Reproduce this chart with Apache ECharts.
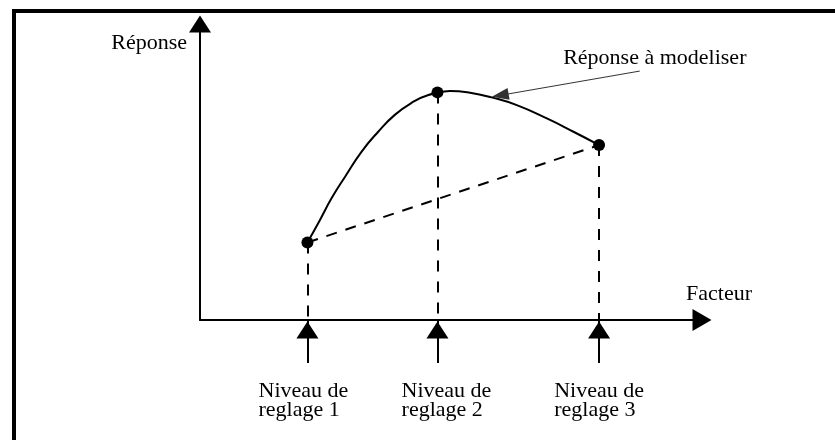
<!DOCTYPE html>
<html>
<head>
<meta charset="utf-8">
<script src="https://cdn.jsdelivr.net/npm/echarts@6/dist/echarts.min.js"></script>
<style>
  html, body { margin: 0; padding: 0; background: #fff; }
  #chart { width: 835px; height: 440px; }
</style>
</head>
<body>
<div id="chart"></div>
<script>
// ---- Data (schematic units: x 0..100 along "Facteur", y 0..100 along "Réponse") ----
const levels = [21.4, 47.3, 79.5];               // factor settings (Niveau de reglage 1..3)
const levelResponses = [26.2, 76.9, 59.1];       // measured response at each setting
const levelLabels = ['Niveau de\nreglage 1', 'Niveau de\nreglage 2', 'Niveau de\nreglage 3'];

// true response curve
const curveX = [21.4, 23.9, 26.2, 28.9, 32.2, 35.5, 38.8, 42.2, 45.5, 49.8, 53.8, 58.1, 63.1, 69.1, 74.4, 79.5];
const curveY = [26.2, 33.8, 41.1, 48.4, 56.9, 63.6, 69.3, 73.4, 76.0, 77.4, 76.8, 75.2, 72.6, 68.1, 63.6, 59.1];

const xAxisName = 'Facteur';
const yAxisName = 'Réponse';
const annotationText = 'Réponse à modeliser';
const annotationFrom = [87.6, 84.1];
const annotationTo = [59.8, 75.9];
const annotationTextAt = [90.6, 88.6];

// ---- Styles ----
const FONT = 'Liberation Serif';
// small horizontal nudges of the label blocks (padding left/right in px)
const labelPads = [[0, 0, 0, 0], [0, 0, 0, 0], [0, 0, 0, 0]];
const labelShift = [[0, 8], [18, 0], [0, 0]];

const chart = echarts.init(document.getElementById('chart'), null, { renderer: 'canvas' });

function levelIndex(v) {
  let best = 0;
  for (let i = 1; i < levels.length; i++) {
    if (Math.abs(levels[i] - v) < Math.abs(levels[best] - v)) best = i;
  }
  return best;
}
function labelFor(v) {
  const i = levelIndex(v);
  return levelLabels[i].split('\n').map(s => '{l' + i + '|' + s + '}').join('\n');
}
const rich = {};
labelShift.forEach((p, i) => {
  rich['l' + i] = { fontFamily: FONT, fontSize: 22, lineHeight: 19, color: '#000', align: 'left', padding: [0, p[1], 0, p[0]] };
});

const frameLine = { show: true, onZero: false, lineStyle: { color: '#000', width: 4, cap: 'square' } };

const option = {
  animation: false,
  backgroundColor: '#ffffff',
  grid: [
    { left: 200, top: 24, width: 502, height: 296, show: false },
    { left: 14, top: 11, right: 0, bottom: 0, show: false }
  ],
  xAxis: [
    {
      type: 'value', gridIndex: 0, min: 0, max: 100,
      name: xAxisName, nameLocation: 'end', nameGap: 17, nameMoveOverlap: false,
      nameTextStyle: { fontFamily: FONT, fontSize: 22, color: '#000', align: 'center', verticalAlign: 'bottom', lineHeight: 22, padding: [0, 0, 15, 0] },
      axisLine: { show: true, onZero: false, symbol: ['none', 'triangle'], symbolSize: [22, 19], lineStyle: { color: '#000', width: 2 } },
      axisTick: { show: true, customValues: levels, length: 43, inside: false, lineStyle: { color: '#000', width: 2 } },
      axisLabel: {
        show: true, customValues: levels, margin: 62,
        formatter: labelFor,
        rich: rich
      },
      splitLine: { show: false }
    },
    {
      type: 'value', gridIndex: 1, position: 'top', min: 0, max: 1,
      axisLine: frameLine, axisTick: { show: false }, axisLabel: { show: false }, splitLine: { show: false }
    }
  ],
  yAxis: [
    {
      type: 'value', gridIndex: 0, min: 0, max: 100,
      name: yAxisName, nameLocation: 'end', nameGap: -19, nameMoveOverlap: false,
      nameTextStyle: { fontFamily: FONT, fontSize: 22, color: '#000', align: 'right', verticalAlign: 'middle', padding: [0, 13, 0, 0] },
      axisLine: { show: true, onZero: false, symbol: ['none', 'triangle'], symbolSize: [22, 17], lineStyle: { color: '#000', width: 2 } },
      axisTick: { show: false },
      axisLabel: { show: false },
      splitLine: { show: false }
    },
    {
      type: 'value', gridIndex: 1, position: 'left', min: 0, max: 1,
      axisLine: frameLine, axisTick: { show: false }, axisLabel: { show: false }, splitLine: { show: false }
    }
  ],
  series: [
    {
      name: 'corde', type: 'line', xAxisIndex: 0, yAxisIndex: 0,
      data: [[levels[0], levelResponses[0]], [levels[2], levelResponses[2]]],
      symbol: 'none', silent: true,
      lineStyle: { color: '#000', width: 2, type: [11, 9] }
    },
    {
      name: 'courbe', type: 'line', xAxisIndex: 0, yAxisIndex: 0,
      data: curveX.map((x, i) => [x, curveY[i]]),
      smooth: 0.5, symbol: 'none', silent: true,
      lineStyle: { color: '#000', width: 2 },
      markLine: {
        silent: true, symbol: ['none', 'triangle'], symbolSize: [12, 17],
        label: { show: false },
        itemStyle: { color: '#000' },
        lineStyle: { color: '#333', width: 1, type: 'solid', opacity: 1 },
        data: [[{ coord: annotationFrom }, { coord: annotationTo }]]
      }
    },
    {
      name: 'points', type: 'scatter', xAxisIndex: 0, yAxisIndex: 0,
      data: levels.map((x, i) => [x, levelResponses[i]]),
      symbol: 'circle', symbolSize: 12, clip: false, silent: true, z: 6,
      itemStyle: { color: '#000', opacity: 1 },
      markLine: {
        silent: true, symbol: ['none', 'none'],
        label: { show: false },
        lineStyle: { color: '#000', width: 2, type: [11, 10], opacity: 1 },
        data: levels.map((x, i) => [{ coord: [x, levelResponses[i]] }, { coord: [x, 0] }])
      }
    },
    {
      name: 'niveaux', type: 'scatter', xAxisIndex: 0, yAxisIndex: 0,
      data: levels.map(x => [x, 0]),
      symbol: 'triangle', symbolSize: [22, 17], symbolOffset: [0, 10],
      clip: false, silent: true, z: 5,
      itemStyle: { color: '#000', opacity: 1 }
    },
    {
      name: 'annotation', type: 'scatter', xAxisIndex: 0, yAxisIndex: 0,
      data: [annotationTextAt],
      symbolSize: 0, clip: false, silent: true,
      itemStyle: { opacity: 1 },
      label: { show: true, position: 'inside', formatter: annotationText, fontFamily: FONT, fontSize: 22, color: '#000', opacity: 1 }
    }
  ]
};

chart.setOption(option);
</script>
</body>
</html>
